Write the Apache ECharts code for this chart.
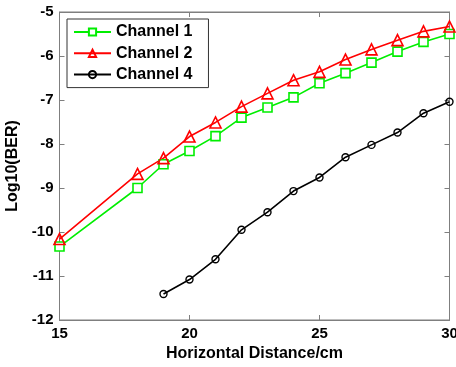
<!DOCTYPE html>
<html>
<head>
<meta charset="utf-8">
<script src="https://cdn.jsdelivr.net/npm/echarts@6/dist/echarts.min.js"></script>
<style>
  html, body { margin: 0; padding: 0; background: #fff; }
  #chart { width: 456px; height: 367px; }
</style>
</head>
<body>
<div id="chart"></div>
<script>
// distances (cm)
var xCh1 = [15, 18, 19, 20, 21, 22, 23, 24, 25, 26, 27, 28, 29, 30];
var ch1 = [-10.33, -9.0, -8.46, -8.16, -7.82, -7.40, -7.17, -6.94, -6.62, -6.39, -6.15, -5.90, -5.68, -5.50];
var xCh2 = [15, 18, 19, 20, 21, 22, 23, 24, 25, 26, 27, 28, 29, 30];
var ch2 = [-10.16, -8.68, -8.32, -7.83, -7.51, -7.15, -6.85, -6.55, -6.36, -6.08, -5.85, -5.64, -5.44, -5.33];
var xCh4 = [19, 20, 21, 22, 23, 24, 25, 26, 27, 28, 29, 30];
var ch4 = [-11.41, -11.08, -10.62, -9.95, -9.55, -9.07, -8.76, -8.30, -8.02, -7.74, -7.30, -7.04];

function pairs(xs, ys) {
    var out = [];
    for (var i = 0; i < xs.length; i++) {
        out.push([xs[i], ys[i]]);
    }
    return out;
}

var font = 'Liberation Sans, Arial, sans-serif';
var frameColor = '#7f7f7f';

var option = {
    animation: false,
    backgroundColor: '#fff',
    grid: {
        left: 59.5, right: 6.5, top: 12, bottom: 47,
        outerBoundsMode: 'none',
        containLabel: false,
        show: true,
        borderColor: frameColor,
        borderWidth: 1,
        backgroundColor: '#fff'
    },
    legend: {
        orient: 'vertical',
        left: 67, top: 19,
        backgroundColor: '#fff',
        borderColor: '#333',
        borderWidth: 1,
        padding: [5, 16, 5, 6],
        itemGap: 5.3,
        itemWidth: 37,
        itemHeight: 9,
        textStyle: { fontFamily: font, fontWeight: 'bold', fontSize: 16, lineHeight: 16, color: '#000' },
        data: ['Channel 1', 'Channel 2', 'Channel 4']
    },
    xAxis: [{
        type: 'value',
        min: 15, max: 30, interval: 5,
        name: 'Horizontal Distance/cm',
        nameLocation: 'middle',
        nameGap: 26,
        nameTextStyle: { fontFamily: font, fontWeight: 'bold', fontSize: 16, color: '#000' },
        axisLine: { show: true, lineStyle: { color: frameColor } },
        axisTick: { show: true, inside: true, length: 5, lineStyle: { color: frameColor } },
        axisLabel: { fontFamily: font, fontWeight: 'bold', fontSize: 15, color: '#000', margin: 6 },
        splitLine: { show: false }
    }, {
        type: 'value',
        position: 'top',
        min: 15, max: 30, interval: 5,
        axisLine: { show: true, lineStyle: { color: frameColor } },
        axisTick: { show: true, inside: true, length: 5, lineStyle: { color: frameColor } },
        axisLabel: { show: false },
        splitLine: { show: false }
    }],
    yAxis: [{
        type: 'value',
        min: -12, max: -5, interval: 1,
        name: 'Log10(BER)',
        nameLocation: 'middle',
        nameGap: 31,
        nameTextStyle: { fontFamily: font, fontWeight: 'bold', fontSize: 16, color: '#000' },
        axisLine: { show: true, lineStyle: { color: frameColor } },
        axisTick: { show: true, inside: true, length: 5, lineStyle: { color: frameColor } },
        axisLabel: { fontFamily: font, fontWeight: 'bold', fontSize: 15, color: '#000', margin: 6 },
        splitLine: { show: false }
    }, {
        type: 'value',
        position: 'right',
        min: -12, max: -5, interval: 1,
        axisLine: { show: true, lineStyle: { color: frameColor } },
        axisTick: { show: true, inside: true, length: 5, lineStyle: { color: frameColor } },
        axisLabel: { show: false },
        splitLine: { show: false }
    }],
    series: [{
        name: 'Channel 1',
        type: 'line',
        data: pairs(xCh1, ch1),
        symbol: 'rect',
        symbolSize: 9,
        showAllSymbol: true,
        color: '#00ee00',
        lineStyle: { color: '#00ee00', width: 1.6 },
        itemStyle: { color: '#fff', borderColor: '#00ee00', borderWidth: 1.6 }
    }, {
        name: 'Channel 2',
        type: 'line',
        data: pairs(xCh2, ch2),
        symbol: 'triangle',
        symbolSize: 11,
        showAllSymbol: true,
        color: '#ff0000',
        lineStyle: { color: '#ff0000', width: 1.6 },
        itemStyle: { color: 'rgba(255,255,255,0)', borderColor: '#ff0000', borderWidth: 1.6 }
    }, {
        name: 'Channel 4',
        type: 'line',
        data: pairs(xCh4, ch4),
        symbol: 'circle',
        symbolSize: 7,
        showAllSymbol: true,
        color: '#000',
        lineStyle: { color: '#000', width: 1.6 },
        itemStyle: { color: 'rgba(255,255,255,0)', borderColor: '#000', borderWidth: 1.4 }
    }]
};

var myChart = echarts.init(document.getElementById('chart'), null, { renderer: 'canvas' });
myChart.setOption(option);
</script>
</body>
</html>
